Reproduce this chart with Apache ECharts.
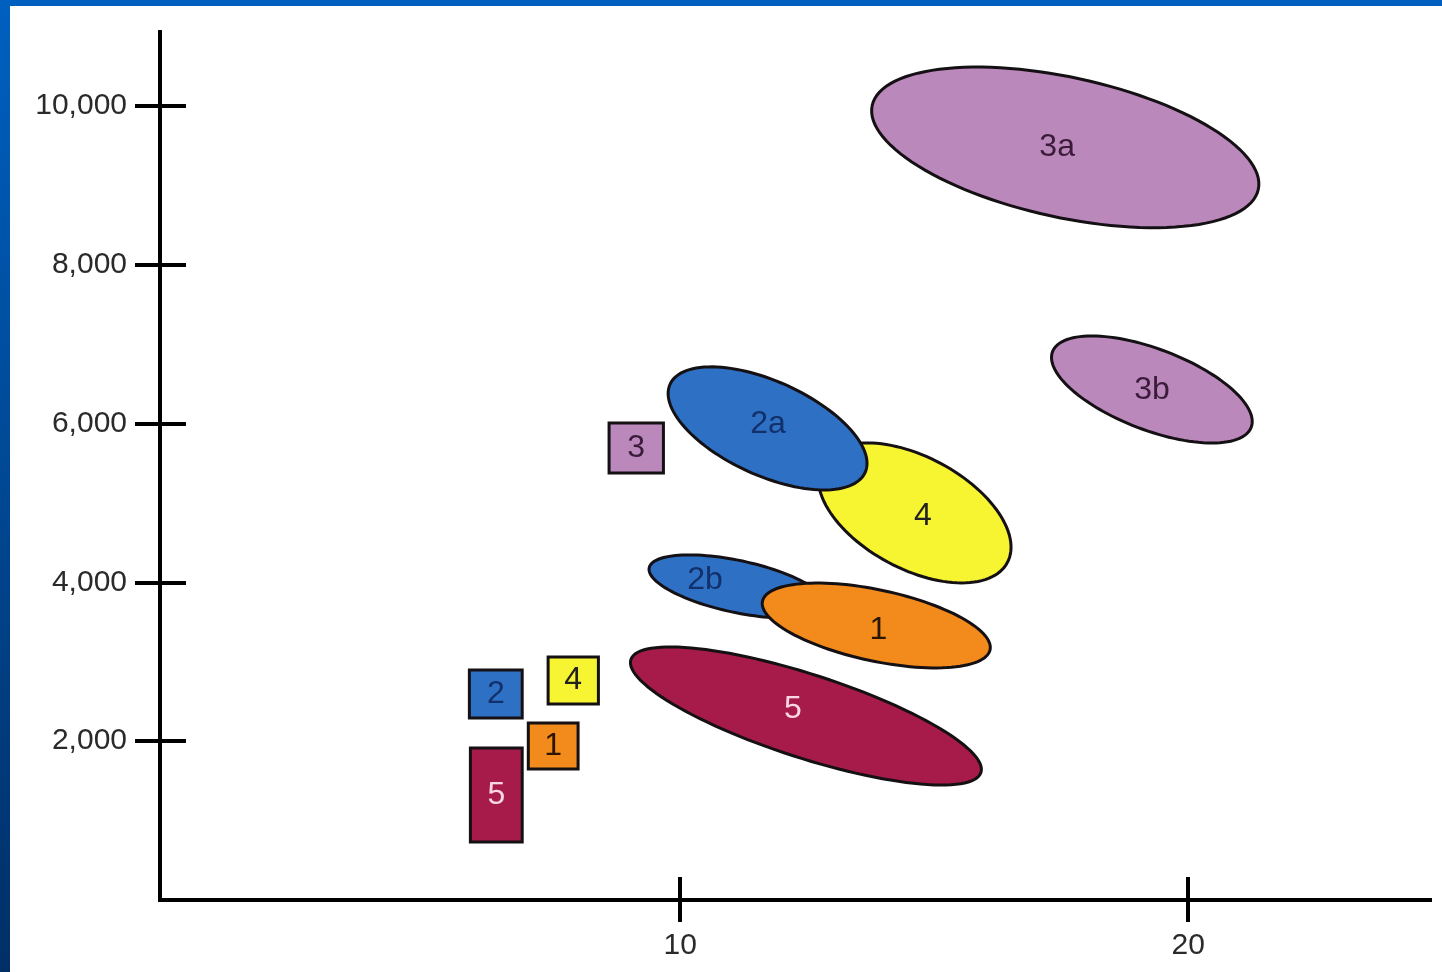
<!DOCTYPE html>
<html>
<head>
<meta charset="utf-8">
<script src="https://cdn.jsdelivr.net/npm/echarts@6/dist/echarts.min.js"></script>
<style>
html,body{margin:0;padding:0;background:#fff;}
#chart{width:1442px;height:972px;}
</style>
</head>
<body>
<div id="chart"></div>
<script>
// ---- data ----
// Ellipse clusters: major-axis end points (x1,y1)-(x2,y2), half thickness (y units), label anchor
var ellipseNames = ['3a', '3b', '4', '2a', '2b', '1', '5'];
var ellipseX1 = [13.78, 17.33, 12.79, 9.80, 9.39, 11.62, 9.03];
var ellipseY1 = [10006, 6905, 5499, 6494, 4184, 3763, 3028];
var ellipseX2 = [21.38, 21.24, 16.44, 13.64, 12.85, 16.10, 15.92];
var ellipseY2 = [8948, 5952, 4249, 5383, 3712, 3151, 1606];
var ellipseHalfWidth = [882, 510, 705, 593, 327, 448, 526];
var ellipseLabelX = [17.42, 19.29, 14.78, 11.73, 10.49, 13.90, 12.22];
var ellipseLabelY = [9484, 6423, 4836, 5995, 4030, 3400, 2406];
var ellipseGroup = ['3', '3', '4', '2', '2', '1', '5'];

// Box clusters: x range and y range
var boxNames = ['3', '2', '4', '1', '5'];
var boxXMin = [8.60, 5.85, 7.40, 7.01, 5.87];
var boxXMax = [9.67, 6.89, 8.39, 7.99, 6.89];
var boxYMin = [5378, 2292, 2469, 1650, 730];
var boxYMax = [6008, 2897, 3060, 2229, 1914];
var boxGroup = ['3', '2', '4', '1', '5'];

var xTickValues = [10, 20];
var yTickValues = [2000, 4000, 6000, 8000, 10000];

// ---- styles ----
var groupFill = {'1': '#f28a1c', '2': '#2e70c4', '3': '#bb88bb', '4': '#f7f431', '5': '#a61b4a'};
var groupText = {'1': '#2a1600', '2': '#12306a', '3': '#3a1c3a', '4': '#222222', '5': '#fbd6e4'};
var FONT = '"Liberation Sans", Arial, sans-serif';

var ellipseData = ellipseNames.map(function (n, i) {
  return [ellipseX1[i], ellipseY1[i], ellipseX2[i], ellipseY2[i], ellipseHalfWidth[i], ellipseLabelX[i], ellipseLabelY[i], i];
});
var boxData = boxNames.map(function (n, i) {
  return [boxXMin[i], boxYMin[i], boxXMax[i], boxYMax[i], i];
});

function renderEllipse(params, api) {
  var i = api.value(7);
  var p1 = api.coord([api.value(0), api.value(1)]);
  var p2 = api.coord([api.value(2), api.value(3)]);
  var b = api.size([0, api.value(4)])[1];
  var cx = (p1[0] + p2[0]) / 2, cy = (p1[1] + p2[1]) / 2;
  var dx = p2[0] - p1[0], dy = p2[1] - p1[1];
  var a = Math.sqrt(dx * dx + dy * dy) / 2;
  var th = Math.atan2(dy, dx);
  var pts = [];
  var N = 120;
  for (var k = 0; k < N; k++) {
    var t = k / N * Math.PI * 2;
    var ex = a * Math.cos(t), ey = b * Math.sin(t);
    pts.push([cx + ex * Math.cos(th) - ey * Math.sin(th), cy + ex * Math.sin(th) + ey * Math.cos(th)]);
  }
  var lp = api.coord([api.value(5), api.value(6)]);
  var g = ellipseGroup[i];
  return {
    type: 'group',
    children: [
      {type: 'polygon', shape: {points: pts}, style: {fill: groupFill[g], stroke: '#141014', lineWidth: 3}},
      {type: 'text', x: lp[0], y: lp[1], style: {text: ellipseNames[i], fill: groupText[g], font: '32px ' + FONT, align: 'center', verticalAlign: 'middle'}}
    ]
  };
}

function renderBox(params, api) {
  var i = api.value(4);
  var p1 = api.coord([api.value(0), api.value(1)]);
  var p2 = api.coord([api.value(2), api.value(3)]);
  var g = boxGroup[i];
  var x = Math.min(p1[0], p2[0]), y = Math.min(p1[1], p2[1]);
  var w = Math.abs(p2[0] - p1[0]), h = Math.abs(p2[1] - p1[1]);
  return {
    type: 'group',
    children: [
      {type: 'rect', shape: {x: x, y: y, width: w, height: h}, style: {fill: groupFill[g], stroke: '#141014', lineWidth: 3}},
      {type: 'text', x: x + w / 2, y: y + h / 2, style: {text: boxNames[i], fill: groupText[g], font: '32px ' + FONT, align: 'center', verticalAlign: 'middle'}}
    ]
  };
}

var chart = echarts.init(document.getElementById('chart'));
var axisLine = {show: true, onZero: false, lineStyle: {color: '#000', width: 4, cap: 'square'}};
var option = {
  backgroundColor: '#ffffff',
  animation: false,
  graphic: [
    {type: 'rect', left: 0, top: 0, shape: {width: 1442, height: 6}, style: {fill: '#0060c0'}, z: 100},
    {type: 'rect', left: 0, top: 0, shape: {width: 10, height: 972}, z: 100,
      style: {fill: new echarts.graphic.LinearGradient(0, 0, 0, 1, [{offset: 0, color: '#0060c0'}, {offset: 1, color: '#002f66'}])}}
  ],
  grid: {left: 160, right: 12, top: 32, bottom: 72},
  xAxis: [
    {type: 'value', min: -0.24, max: 24.76, position: 'bottom', offset: 0,
      axisLine: axisLine, splitLine: {show: false},
      axisTick: {show: true, length: 22, customValues: xTickValues, lineStyle: {color: '#000', width: 4}},
      axisLabel: {show: true, customValues: xTickValues, margin: 31, color: '#2a2a2a', fontSize: 30, fontFamily: FONT}},
    {type: 'value', min: -0.24, max: 24.76, position: 'bottom', offset: 0,
      axisLine: {show: false, onZero: false}, splitLine: {show: false},
      axisTick: {show: true, inside: true, length: 23, customValues: xTickValues, lineStyle: {color: '#000', width: 4}},
      axisLabel: {show: false}}
  ],
  yAxis: [
    {type: 'value', min: 0, max: 10930, position: 'left', offset: 0,
      axisLine: axisLine, splitLine: {show: false},
      axisTick: {show: true, length: 25, customValues: yTickValues, lineStyle: {color: '#000', width: 4}},
      axisLabel: {show: true, customValues: yTickValues, margin: 33, color: '#2a2a2a', fontSize: 30, fontFamily: FONT,
        padding: [0, 0, 9, 0],
        formatter: function (v) { return v.toLocaleString('en-US'); }}},
    {type: 'value', min: 0, max: 10930, position: 'left', offset: 0,
      axisLine: {show: false, onZero: false}, splitLine: {show: false},
      axisTick: {show: true, inside: true, length: 26, customValues: yTickValues, lineStyle: {color: '#000', width: 4}},
      axisLabel: {show: false}}
  ],
  series: [
    {type: 'custom', xAxisIndex: 0, yAxisIndex: 0, renderItem: renderEllipse, data: ellipseData, encode: {x: [0, 2], y: [1, 3]}, z: 3},
    {type: 'custom', xAxisIndex: 0, yAxisIndex: 0, renderItem: renderBox, data: boxData, encode: {x: [0, 2], y: [1, 3]}, z: 3}
  ]
};
chart.setOption(option);
</script>
</body>
</html>
